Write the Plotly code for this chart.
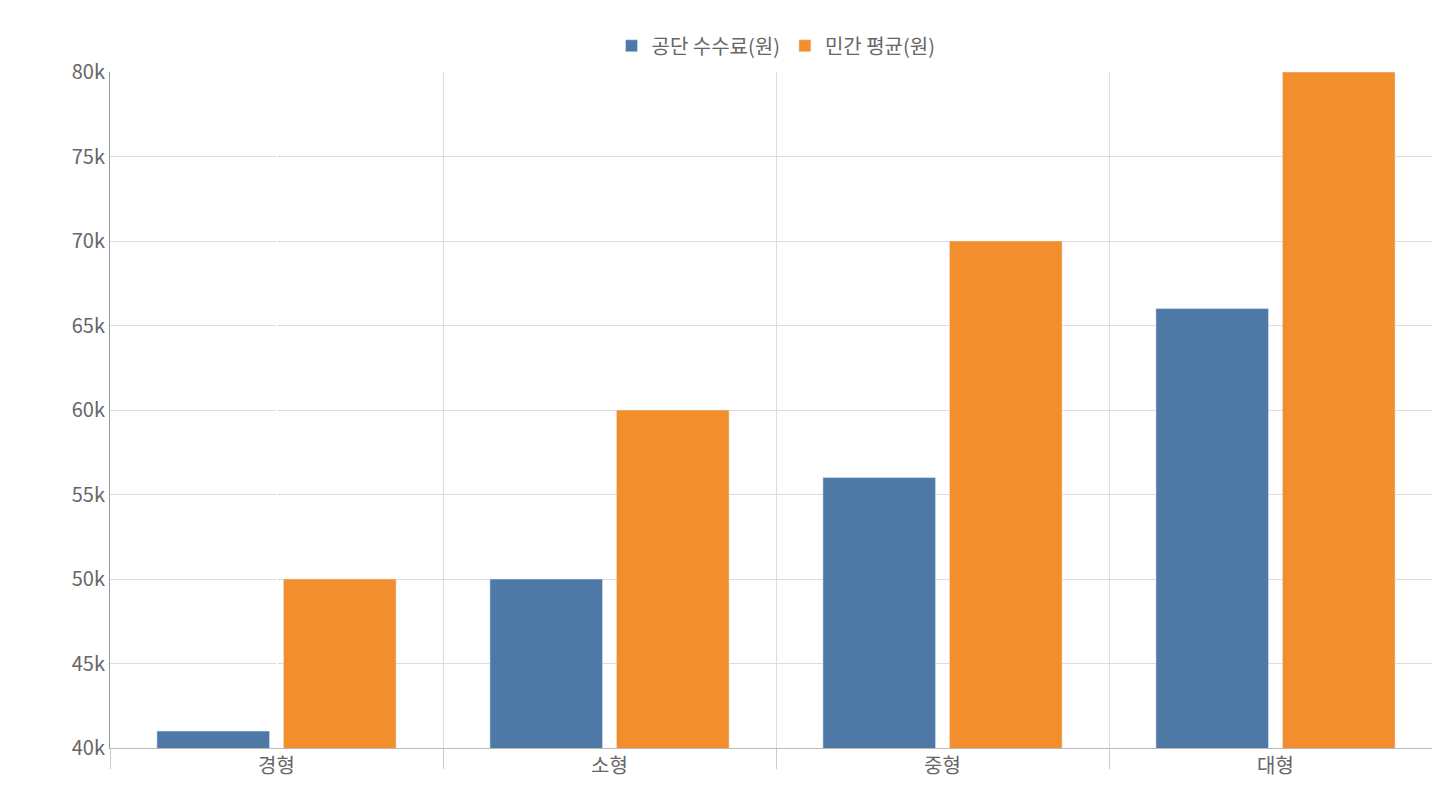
import plotly.graph_objects as go

categories = ["경형", "소형", "중형", "대형"]
public_fee = [41000, 50000, 56000, 66000]
private_avg = [50000, 60000, 70000, 80000]
series_names = ["공단 수수료(원)", "민간 평균(원)"]
boundaries = [-0.5, 0.5, 1.5, 2.5, 3.5]

fig = go.Figure()
fig.add_trace(go.Bar(x=list(range(4)), y=public_fee, name=series_names[0], marker_color="#4e79a7"))
fig.add_trace(go.Bar(x=list(range(4)), y=private_avg, name=series_names[1], marker_color="#f28e2c"))
fig.add_trace(go.Scatter(x=boundaries, y=[None]*5, xaxis="x2", showlegend=False, hoverinfo="skip"))

font = dict(family="Noto Sans CJK KR, Noto Sans, sans-serif", size=20, color="#666")
fig.update_layout(
    width=1440, height=800, plot_bgcolor="white", paper_bgcolor="white",
    margin=dict(l=102, r=6, t=64, b=60), font=font,
    barmode="group", bargap=0.24, bargroupgap=0.11,
    legend=dict(orientation="h", x=0.5, xanchor="center", y=1.01, yanchor="bottom", font=font),
    xaxis=dict(tickvals=list(range(4)), ticktext=categories, range=[-0.5, 3.5],
               showgrid=False, showline=True, linecolor="#bbb", ticks="", tickfont=font),
    xaxis2=dict(overlaying="x", range=[-0.5, 3.5], tickvals=boundaries, showticklabels=False,
                showgrid=True, gridcolor="#ddd", ticks="outside", ticklen=20, tickcolor="#ccc",
                side="bottom", anchor="y"),
    yaxis=dict(range=[40000, 80000], dtick=5000, gridcolor="#ddd", showline=True, linecolor="#999",
               ticks="", tickfont=font, zeroline=False),
)
fig.write_html("out.html")
